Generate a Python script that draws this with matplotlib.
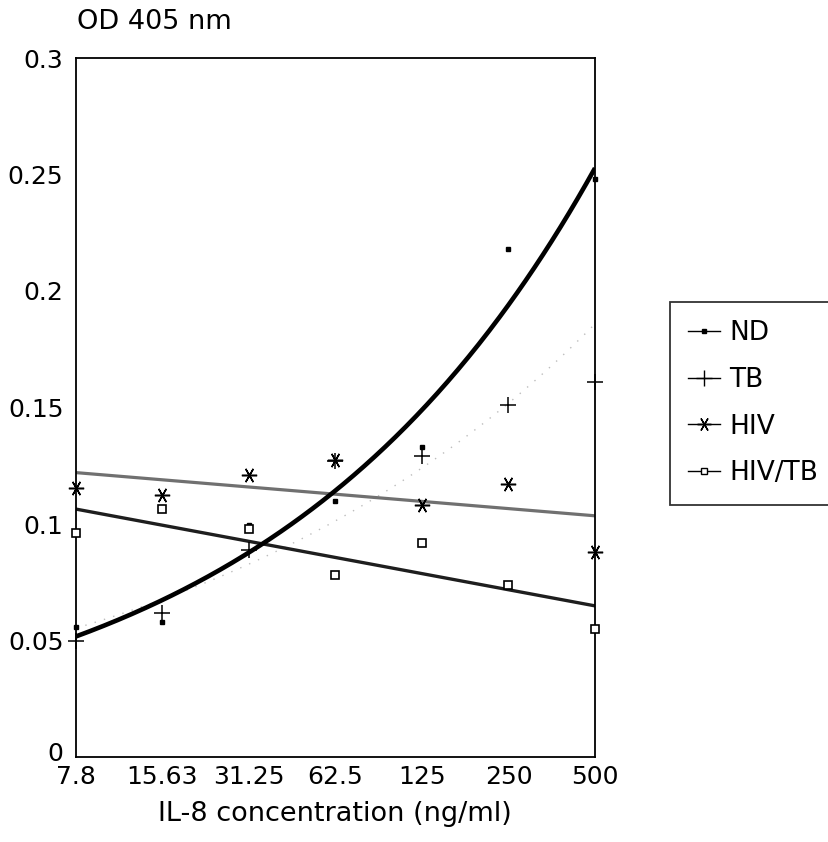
import numpy as np
import matplotlib
matplotlib.use('Agg')
import matplotlib.pyplot as plt
from matplotlib.lines import Line2D
from matplotlib.transforms import ScaledTranslation

# ---- data ----
concentrations = ['7.8', '15.63', '31.25', '62.5', '125', '250', '500']
nd = [0.056, 0.058, 0.0996, 0.110, 0.133, 0.218, 0.248]
tb = [0.050, 0.062, 0.089, 0.127, 0.129, 0.151, 0.161]
hiv = [0.1155, 0.1125, 0.121, 0.1275, 0.108, 0.117, 0.088]
hiv_tb = [0.096, 0.1064, 0.098, 0.078, 0.092, 0.074, 0.055]
series_names = ['ND', 'TB', 'HIV', 'HIV/TB']
y_ticks = [0, 0.05, 0.1, 0.15, 0.2, 0.25, 0.3]
y_tick_labels = ['0', '0.05', '0.1', '0.15', '0.2', '0.25', '0.3']

plt.rcParams['font.family'] = ['DejaVu Sans']

W, H = 829, 842
fig = plt.figure(figsize=(W / 100, H / 100), dpi=100)
ax = fig.add_axes([76 / W, 1 - 757 / H, (595 - 76) / W, (757 - 58) / H])

x = np.arange(len(concentrations))
xf = np.linspace(x[0], x[-1], 300)

# trend lines (fits to the data)
c_nd = np.polyfit(x, np.log(nd), 1)
ax.plot(xf, np.exp(np.polyval(c_nd, xf)), color='black', lw=3.3, zorder=3,
        solid_capstyle='butt')
c_tb = np.polyfit(x, np.log(tb), 1)
ax.plot(xf, np.exp(np.polyval(c_tb, xf)), color='#bdbdbd', lw=1.0,
        ls=(0, (1, 6)), zorder=2)
c_hiv = np.polyfit(x, hiv, 1)
ax.plot(xf, np.polyval(c_hiv, xf), color='#707070', lw=2.3, zorder=2)
c_hivtb = np.polyfit(x, hiv_tb, 1)
ax.plot(xf, np.polyval(c_hivtb, xf), color='#1e1e1e', lw=2.4, zorder=2)

# data markers
mk = dict(ls='none', clip_on=False, zorder=4)
ax.plot(x, nd, marker='s', ms=3.5, color='black', **mk)
ax.plot(x, tb, marker='+', ms=11, mew=1.1, color='black', **mk)
ax.plot(x, hiv, marker=(6, 2, 90), ms=11, mew=1.1, color='black', **mk)
ax.plot(x, hiv_tb, marker='s', ms=5.5, mew=1.2, mfc='white', mec='black', **mk)

ax.set_xlim(x[0], x[-1])
ax.set_ylim(0, 0.3)
ax.set_xticks(x, concentrations)
ax.set_yticks(y_ticks, y_tick_labels)
ax.tick_params(axis='both', length=0, labelsize=18, colors='black')
ax.tick_params(axis='x', pad=6)
ax.tick_params(axis='y', pad=9)
for s in ax.spines.values():
    s.set_linewidth(1.3)
    s.set_color('black')

# nudge the "0" label up slightly so it does not collide with "7.8"
zero_lbl = ax.get_yticklabels()[0]
zero_lbl.set_transform(zero_lbl.get_transform() +
                       ScaledTranslation(0, 4 / 72, fig.dpi_scale_trans))

fig.text(335 / W, 1 - 814 / H, 'IL-8 concentration (ng/ml)', ha='center',
         va='center', fontsize=19.5)
fig.text(77 / W, 1 - 22 / H, 'OD 405 nm', ha='left', va='center', fontsize=19.5)

handles = [
    Line2D([], [], color='black', lw=1, marker='s', ms=3),
    Line2D([], [], color='black', lw=1, marker='+', ms=11, mew=1),
    Line2D([], [], color='black', lw=1, marker=(6, 2, 90), ms=10, mew=1),
    Line2D([], [], color='black', lw=1, marker='s', ms=5, mfc='white', mew=1),
]
leg = fig.legend(handles, series_names, loc='upper left',
                 bbox_to_anchor=(670 / W, 1 - 302 / H), frameon=True,
                 fancybox=False, edgecolor='black', fontsize=19,
                 handlelength=1.2, handletextpad=0.35, labelspacing=0.78,
                 borderpad=0.7, borderaxespad=0)
leg.get_frame().set_linewidth(1.3)

fig.savefig('out.png', dpi=100, facecolor='white')
